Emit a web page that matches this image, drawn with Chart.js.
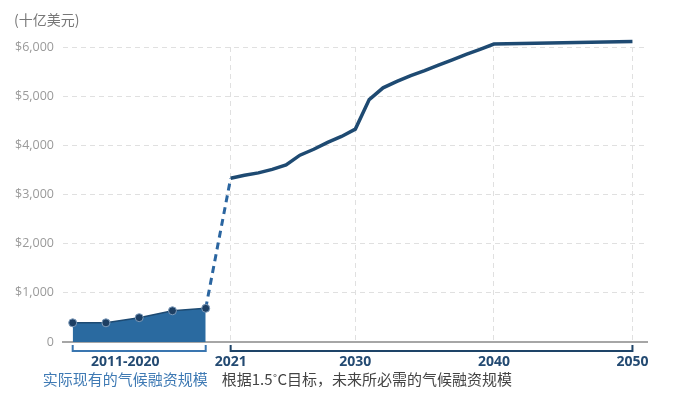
<!DOCTYPE html>
<html>
<head>
<meta charset="utf-8">
<script src="https://cdn.jsdelivr.net/npm/chart.js@4"></script>
<style>
  html, body { margin: 0; padding: 0; background: #fff; }
  #wrap { width: 693px; height: 397px; position: relative; }
</style>
</head>
<body>
<div id="wrap"><canvas id="climateChart"></canvas></div>
<script>
// données
const histPeriods = ['2011-12', '2013-14', '2015-16', '2017-18', '2019-20'];
const histPos = [2009.6, 2012.0, 2014.4, 2016.8, 2019.2]; // placement des périodes 2011-2020 sur l'axe
const histValues = [390, 390, 495, 635, 685];

const futureYears = [2021, 2022, 2023, 2024, 2025, 2026, 2027, 2028, 2029, 2030,
                     2031, 2032, 2033, 2034, 2035, 2036, 2037, 2038, 2039, 2040, 2050];
const futureValues = [3330, 3390, 3440, 3510, 3600, 3800, 3920, 4060, 4180, 4330,
                      4930, 5170, 5300, 5420, 5520, 5630, 5740, 5850, 5950, 6060, 6110];

const yTicks = [0, 1000, 2000, 3000, 4000, 5000, 6000];
const xTickYears = [2021, 2030, 2040, 2050];

const histLabel = '2011-2020';
const histCaption = '实际现有的气候融资规模';
const futureCaption = '根据1.5˚C目标，未来所必需的气候融资规模';
const unitLabel = '(十亿美元)';

const histPoints = histPos.map((x, i) => ({ x: x, y: histValues[i] }));
const futurePoints = futureYears.map((x, i) => ({ x: x, y: futureValues[i] }));
const bridgePoints = [histPoints[histPoints.length - 1], futurePoints[0]];

// annotations : crochets, légendes en chinois, unité
const annotations = {
    id: 'annotations',
    afterDraw(chart) {
        const ctx = chart.ctx;
        const xs = chart.scales.x;
        const base = chart.chartArea.bottom;
        const bracket = (x1, x2, color) => {
            ctx.save();
            ctx.strokeStyle = color;
            ctx.lineWidth = 2;
            ctx.beginPath();
            ctx.moveTo(x1, base + 3);
            ctx.lineTo(x1, base + 9);
            ctx.lineTo(x2, base + 9);
            ctx.lineTo(x2, base + 3);
            ctx.stroke();
            ctx.restore();
        };
        const hx1 = xs.getPixelForValue(histPos[0]);
        const hx2 = xs.getPixelForValue(histPos[histPos.length - 1]);
        bracket(hx1, hx2, '#3a76b0');
        bracket(xs.getPixelForValue(futureYears[0]), xs.getPixelForValue(futureYears[futureYears.length - 1]), '#1e4468');

        ctx.save();
        ctx.textBaseline = 'middle';
        ctx.textAlign = 'center';
        ctx.font = 'bold 14px "Open Sans"';
        ctx.fillStyle = '#234a72';
        const cx = (hx1 + hx2) / 2 - 14;
        ctx.fillText(histLabel, cx, base + 20);

        ctx.font = '15px "Noto Sans CJK SC"';
        ctx.fillStyle = '#3f7ab4';
        ctx.fillText(histCaption, cx, base + 37);
        ctx.textAlign = 'left';
        ctx.fillStyle = '#444';
        ctx.fillText(futureCaption, xs.getPixelForValue(futureYears[0]) - 9, base + 37);

        ctx.font = '14px "Noto Sans CJK SC"';
        ctx.fillStyle = '#777';
        ctx.fillText(unitLabel, 14, 20);
        ctx.restore();
    }
};

const ctx = document.getElementById('climateChart').getContext('2d');
new Chart(ctx, {
    type: 'line',
    data: {
        datasets: [{
            label: histLabel,
            data: histPoints,
            borderColor: '#1d4a72',
            borderWidth: 1.5,
            backgroundColor: '#2a6aa0',
            fill: 'origin',
            pointRadius: 4,
            pointBackgroundColor: '#1d3f63',
            pointBorderColor: '#7d9bbb',
            pointBorderWidth: 1,
            order: 2
        }, {
            label: 'bridge',
            data: bridgePoints,
            borderColor: '#2a65a0',
            borderWidth: 3,
            borderDash: [7, 5],
            pointRadius: 0,
            fill: false,
            order: 3
        }, {
            label: futureCaption,
            data: futurePoints,
            borderColor: '#1e4a72',
            borderWidth: 3.5,
            pointRadius: 0,
            fill: false,
            clip: false,
            order: 1
        }]
    },
    options: {
        responsive: true,
        maintainAspectRatio: false,
        animation: false,
        layout: { padding: { left: 0, right: 46, top: 47, bottom: 0 } },
        plugins: {
            legend: { display: false },
            tooltip: { enabled: false }
        },
        scales: {
            x: {
                type: 'linear',
                min: 2008.9,
                max: 2051.05,
                afterBuildTicks: (scale) => {
                    scale.ticks = xTickYears.map(v => ({ value: v }));
                },
                afterFit: (scale) => { scale.height = 55; },
                ticks: {
                    callback: (v) => String(v),
                    font: { family: '"Open Sans"', size: 14, weight: 'bold' },
                    color: '#234a72',
                    padding: 12,
                    maxRotation: 0
                },
                grid: {
                    color: '#e0e0e0',
                    lineWidth: 1,
                    drawTicks: false
                },
                border: { color: '#a6a6a6', width: 2, dash: [5, 4] }
            },
            y: {
                min: 0,
                max: 6000,
                afterBuildTicks: (scale) => {
                    scale.ticks = yTicks.map(v => ({ value: v }));
                },
                afterFit: (scale) => { scale.width = 63; },
                ticks: {
                    callback: (v) => v === 0 ? '0' : '$' + v.toLocaleString('en-US'),
                    font: { family: '"Open Sans"', size: 12.5 },
                    color: '#9a9a9a',
                    padding: 9
                },
                grid: {
                    color: (c) => c.tick && c.tick.value === 0 ? 'rgba(0,0,0,0)' : '#e0e0e0',
                    lineWidth: 1,
                    drawTicks: false
                },
                border: { display: false, dash: [5, 4] }
            }
        }
    },
    plugins: [annotations]
});
</script>
</body>
</html>
